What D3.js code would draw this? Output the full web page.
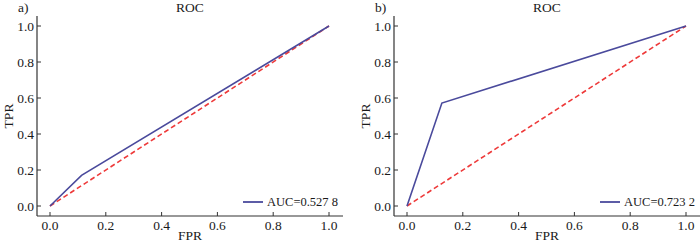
<!DOCTYPE html>
<html>
<head>
<meta charset="utf-8">
<script src="https://cdn.jsdelivr.net/npm/d3@7"></script>
<style>
  body { margin: 0; background: #fff; }
  svg text { font-family: "Liberation Serif", "Times New Roman", serif; fill: #1a1a1a; }
</style>
</head>
<body>
<svg id="chart" width="700" height="244"></svg>
<script>
const ticks = [0, 0.2, 0.4, 0.6, 0.8, 1.0]

// ROC points
const fprA = [0, 0.113, 1]
const tprA = [0, 0.17, 1]
const fprB = [0, 0.125, 1]
const tprB = [0, 0.572, 1]
const chance = [0, 1]

const panels = [
  { tag: 'a)', fpr: fprA, tpr: tprA, auc: 'AUC=0.527 8', left: 0 },
  { tag: 'b)', fpr: fprB, tpr: tprB, auc: 'AUC=0.723 2', left: 357 }
]

const svg = d3.select('#chart')

panels.forEach(p => {
  const g = svg.append('g').attr('transform', `translate(${p.left},0)`)
  const x = d3.scaleLinear().domain([0, 1]).range([50, 329])
  const y = d3.scaleLinear().domain([0, 1]).range([206, 26])
  const spineX = 37, spineY = 216

  // spines, offset from data area
  g.append('line').attr('x1', spineX).attr('x2', spineX).attr('y1', 16).attr('y2', spineY)
    .attr('stroke', '#333').attr('stroke-width', 1.2)
  g.append('line').attr('x1', spineX).attr('x2', 343).attr('y1', spineY).attr('y2', spineY)
    .attr('stroke', '#333').attr('stroke-width', 1.2)

  ticks.forEach(t => {
    g.append('line').attr('x1', spineX).attr('x2', spineX + 4).attr('y1', y(t)).attr('y2', y(t))
      .attr('stroke', '#333')
    g.append('text').attr('x', spineX - 3).attr('y', y(t)).attr('dy', '0.35em')
      .attr('text-anchor', 'end').attr('font-size', 13.5).text(t.toFixed(1))
    g.append('line').attr('x1', x(t)).attr('x2', x(t)).attr('y1', spineY).attr('y2', spineY - 4)
      .attr('stroke', '#333')
    g.append('text').attr('x', x(t)).attr('y', spineY + 14)
      .attr('text-anchor', 'middle').attr('font-size', 13.5).text(t.toFixed(1))
  })

  const line = d3.line().x(d => x(d[0])).y(d => y(d[1]))

  g.append('path').datum(chance.map((v, i) => [v, chance[i]]))
    .attr('d', line).attr('fill', 'none')
    .attr('stroke', '#ee3a3a').attr('stroke-width', 1.6).attr('stroke-dasharray', '5,3')

  g.append('path').datum(p.fpr.map((v, i) => [v, p.tpr[i]]))
    .attr('d', line).attr('fill', 'none')
    .attr('stroke', '#4a4a9c').attr('stroke-width', 1.6)

  // titles
  g.append('text').attr('x', 190).attr('y', 12).attr('text-anchor', 'middle')
    .attr('font-size', 13.5).text('ROC')
  g.append('text').attr('x', 18).attr('y', 12).attr('font-size', 13.5).text(p.tag)
  g.append('text').attr('x', 190).attr('y', 240).attr('text-anchor', 'middle')
    .attr('font-size', 13.5).text('FPR')
  g.append('text').attr('transform', `translate(13,116) rotate(-90)`)
    .attr('text-anchor', 'middle').attr('font-size', 13.5).text('TPR')

  // legend
  g.append('line').attr('x1', 243).attr('x2', 263).attr('y1', 202).attr('y2', 202)
    .attr('stroke', '#4a4a9c').attr('stroke-width', 1.8)
  g.append('text').attr('x', 267).attr('y', 202).attr('dy', '0.35em')
    .attr('font-size', 12.5).text(p.auc)
})
</script>
</body>
</html>
